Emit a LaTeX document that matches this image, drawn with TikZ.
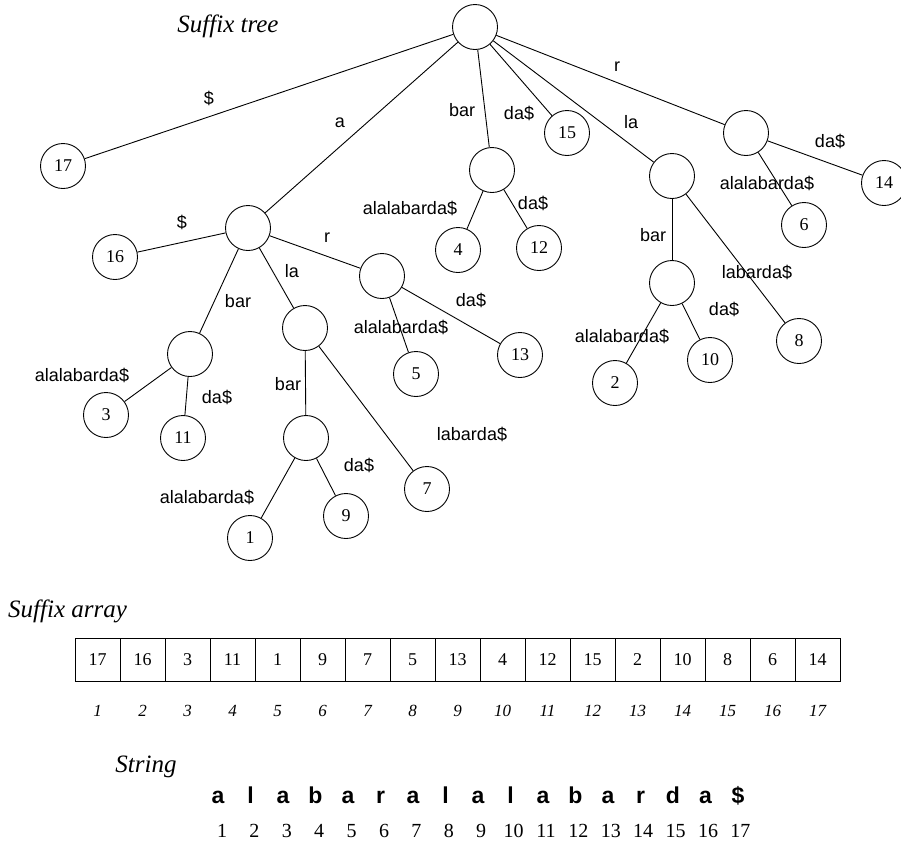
\documentclass[tikz,border=0pt]{standalone}
\usepackage{fontspec}
\setmainfont{Liberation Serif}
\newfontfamily\lsans{Liberation Sans}
\begin{document}
\begin{tikzpicture}[x=1pt,y=-1pt,
  nd/.style={circle,draw,line width=0.9pt,minimum size=45pt,inner sep=0pt,font=\fontsize{18}{18}\selectfont},
  edge/.style={line width=0.9pt},
  lab/.style={font=\lsans\fontsize{18}{18}\selectfont,inner sep=0pt},
  ttl/.style={font=\itshape\fontsize{25}{25}\selectfont,inner sep=0pt},
  cell/.style={draw,line width=0.9pt,minimum width=45pt,minimum height=43pt,inner sep=0pt,font=\fontsize{18}{18}\selectfont},
  idx/.style={font=\itshape\fontsize{17}{17}\selectfont,inner sep=0pt,anchor=base},
  chr/.style={font=\lsans\bfseries\fontsize{23}{23}\selectfont,inner sep=0pt,anchor=base},
  num/.style={font=\fontsize{20}{20}\selectfont,inner sep=0pt,anchor=base}]
\useasboundingbox (0,0) rectangle (901,844);
\node[ttl] (t1) at (228,26) {Suf{}f{}ix tree};
% tree nodes
\node[nd] (root) at (475,27) {};
\node[nd] (n17) at (63,166) {17};
\node[nd] (A) at (248,228) {};
\node[nd] (n16) at (115,257) {16};
\node[nd] (B) at (492,170) {};
\node[nd] (n4) at (458,250) {4};
\node[nd] (n12) at (539,248) {12};
\node[nd] (n15) at (567,133) {15};
\node[nd] (L) at (672,176) {};
\node[nd] (R) at (746,133) {};
\node[nd] (n6) at (804,225) {6};
\node[nd] (n14) at (884,183) {14};
\node[nd] (AR) at (382,276) {};
\node[nd] (n5) at (416,374) {5};
\node[nd] (n13) at (520,355) {13};
\node[nd] (AB) at (190,354) {};
\node[nd] (n3) at (106,415) {3};
\node[nd] (n11) at (183,438) {11};
\node[nd] (AL) at (305,328) {};
\node[nd] (ALB) at (306,438) {};
\node[nd] (n1) at (250,538) {1};
\node[nd] (n9) at (346,516) {9};
\node[nd] (n7) at (427,489) {7};
\node[nd] (LB) at (672,283) {};
\node[nd] (n2) at (615,383) {2};
\node[nd] (n10) at (710,360) {10};
\node[nd] (n8) at (799,341) {8};
% edges
\draw[edge] (root) -- (n17);
\draw[edge] (root) -- (A);
\draw[edge] (root) -- (B);
\draw[edge] (root) -- (n15);
\draw[edge] (root) -- (L);
\draw[edge] (root) -- (R);
\draw[edge] (R) -- (n6);
\draw[edge] (R) -- (n14);
\draw[edge] (B) -- (n4);
\draw[edge] (B) -- (n12);
\draw[edge] (L) -- (LB);
\draw[edge] (L) -- (n8);
\draw[edge] (LB) -- (n2);
\draw[edge] (LB) -- (n10);
\draw[edge] (A) -- (n16);
\draw[edge] (A) -- (AB);
\draw[edge] (A) -- (AL);
\draw[edge] (A) -- (AR);
\draw[edge] (AR) -- (n5);
\draw[edge] (AR) -- (n13);
\draw[edge] (AB) -- (n3);
\draw[edge] (AB) -- (n11);
\draw[edge] (AL) -- (ALB);
\draw[edge] (AL) -- (n7);
\draw[edge] (ALB) -- (n1);
\draw[edge] (ALB) -- (n9);
% edge labels
\node[lab] (l1) at (209,98) {\$};
\node[lab] (l2) at (340,123) {a};
\node[lab] (l3) at (462,110) {bar};
\node[lab] (l4) at (519,113) {da\$};
\node[lab] (l5) at (631,122) {la};
\node[lab] (l6) at (617,67) {r};
\node[lab] (l7) at (830,141) {da\$};
\node[lab] (l8) at (767,183) {alalabarda\$};
\node[lab] (l9) at (182,222) {\$};
\node[lab] (l10) at (327,238) {r};
\node[lab] (l11) at (238,301) {bar};
\node[lab] (l12) at (292,271) {la};
\node[lab] (l13) at (401,327) {alalabarda\$};
\node[lab] (l14) at (471,300) {da\$};
\node[lab] (l15) at (410,208) {alalabarda\$};
\node[lab] (l16) at (533,203) {da\$};
\node[lab] (l17) at (653,235) {bar};
\node[lab] (l18) at (757,272) {labarda\$};
\node[lab] (l19) at (622,336) {alalabarda\$};
\node[lab] (l20) at (724,309) {da\$};
\node[lab] (l21) at (82,375) {alalabarda\$};
\node[lab] (l22) at (217,397) {da\$};
\node[lab] (l23) at (288,384) {bar};
\node[lab] (l24) at (472,434) {labarda\$};
\node[lab] (l25) at (207,497) {alalabarda\$};
\node[lab] (l26) at (359,465) {da\$};
% suffix array
\node[ttl,anchor=west] (t2) at (8,611) {Suf{}f{}ix array};
\foreach \v [count=\i] in {17,16,3,11,1,9,7,5,13,4,12,15,2,10,8,6,14} {
  \node[cell] (c\i) at ({97.5+45*(\i-1)},660) {\v};
  \node[idx] (x\i) at ({97.5+45*(\i-1)},716) {\i};
}
% string
\node[ttl] (t3) at (146,767) {String};
\foreach \ch [count=\i] in {a,l,a,b,a,r,a,l,a,l,a,b,a,r,d,a,\$} {
  \node[chr] (s\i) at ({218+32.5*(\i-1)},803) {\ch};
  \node[num] (p\i) at ({222+32.4*(\i-1)},837) {\i};
}
\end{tikzpicture}
\end{document}
